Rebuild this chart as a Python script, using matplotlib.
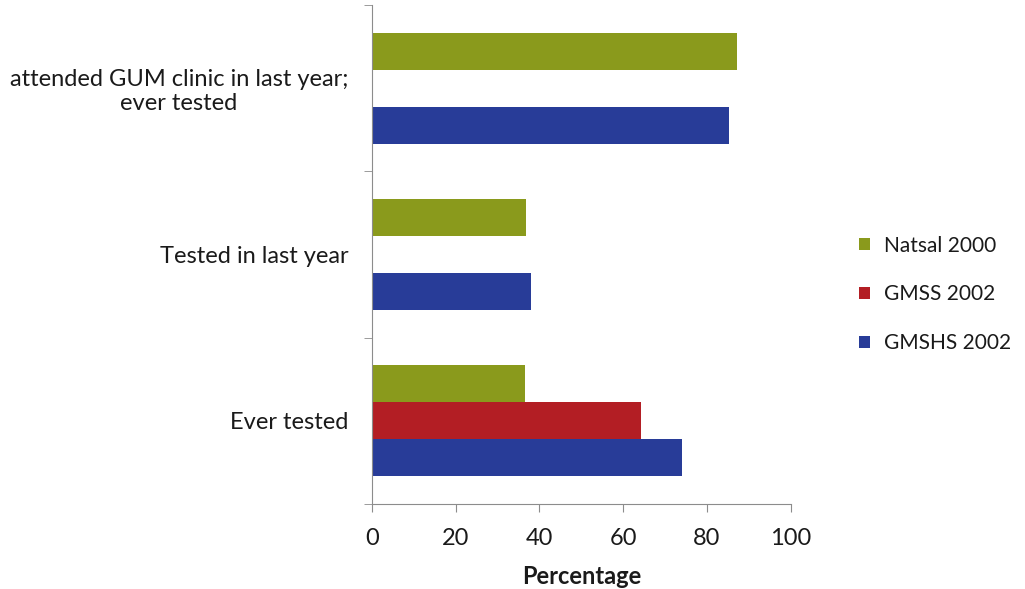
import matplotlib.pyplot as plt
import numpy as np

# survey data (percent)
categories = ['Ever tested', 'Tested in last year',
              'attended GUM clinic in last year;\never tested']
series = ['Natsal 2000', 'GMSS 2002', 'GMSHS 2002']
natsal = [36.5, 36.7, 87.1]
gmss = [64.2, np.nan, np.nan]
gmshs = [74.1, 38.0, 85.3]
xticks = [0, 20, 40, 60, 80, 100]

colors = ['#8a9a1c', '#b31e24', '#283c98']

plt.rcParams['font.family'] = ['Lato', 'DejaVu Sans']

fig = plt.figure(figsize=(10.25, 5.89), dpi=100)
ax = fig.add_axes([0.3629, 0.1443, 0.7714 - 0.3629, 0.9915 - 0.1443])

pos = np.arange(len(categories))
h = 1. / 4.5
for vals, off, col, lab in zip([natsal, gmss, gmshs], [h, 0, -h], colors, series):
    ax.barh(pos + off, vals, height=h, color=col, label=lab)

ax.set_xlim(0, 100)
ax.set_ylim(-0.5, 2.5)
ax.set_xticks(xticks)
ax.set_yticks(pos)
ax.set_yticklabels(categories, multialignment='center', linespacing=1.15)
ax.set_yticks([-0.5, 0.5, 1.5, 2.5], minor=True)

for s in ['top', 'right']:
    ax.spines[s].set_visible(False)
for s in ['left', 'bottom']:
    ax.spines[s].set_color('#8c8c8c')

ax.tick_params(axis='y', which='major', length=0, pad=17, labelsize=17,
               labelcolor='#1a1a1a')
ax.tick_params(axis='y', which='minor', length=6, color='#8c8c8c')
ax.tick_params(axis='x', length=6, color='#8c8c8c', pad=11, labelsize=17,
               labelcolor='#1a1a1a')

ax.set_xlabel('Percentage', fontsize=17, fontweight='bold', labelpad=12,
              color='#1a1a1a')

leg = ax.legend(loc='center left', bbox_to_anchor=(0.82, 0.5),
                bbox_transform=fig.transFigure, frameon=False,
                fontsize=15, handlelength=0.5, handleheight=0.5,
                handletextpad=0.7, labelspacing=1.38)
for t in leg.get_texts():
    t.set_color('#1a1a1a')

plt.savefig('out.png', dpi=100)
